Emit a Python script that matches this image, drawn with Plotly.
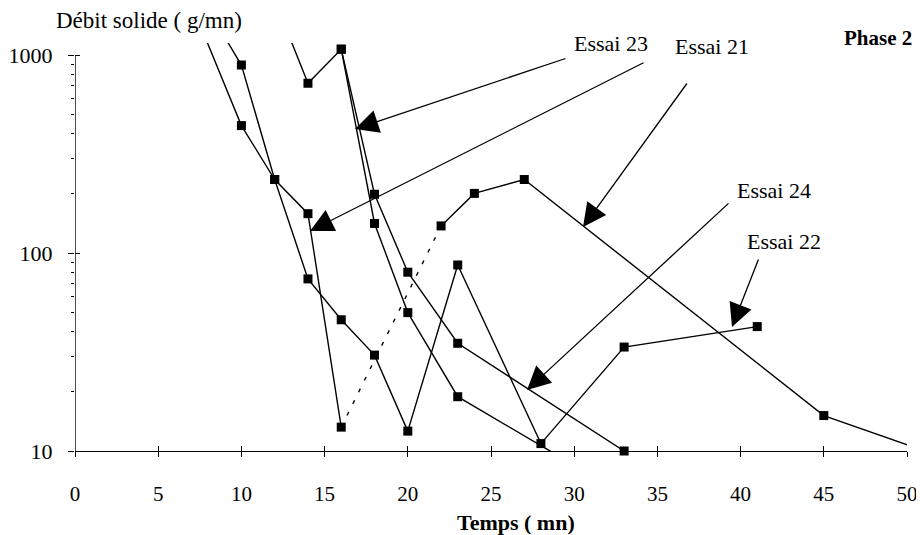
import plotly.graph_objects as go

# ---------------- data ----------------
# Essai 21 (segment 16 -> 22 min drawn dotted)
x21 = [6, 10, 12, 14, 16, 22, 24, 27, 45, 52]
y21 = [2900, 440, 235, 158, 13.2, 137, 200, 235, 15.1, 9.4]
# Essai 22
x22 = [8, 10, 12, 14, 16, 18, 20, 23, 28, 33, 41]
y22 = [1700, 890, 235, 74, 46, 30.5, 12.6, 87, 10.9, 33.5, 42.5]
# Essai 23
x23 = [12, 14, 16, 18, 20, 23, 29]
y23 = [1900, 720, 1070, 141, 50, 18.8, 9.5]
# Essai 24
x24 = [16, 18, 20, 23, 33]
y24 = [1070, 198, 80, 35, 10]

x_ticks = [0, 5, 10, 15, 20, 25, 30, 35, 40, 45, 50]
y_ticks = [10, 100, 1000]
y_minor = [20, 30, 40, 50, 60, 70, 80, 90, 200, 300, 400, 500, 600, 700, 800, 900]

dot_from, dot_to = 4, 5  # indices in Essai 21 joined by the dotted segment

# ---------------- layout geometry (screen pixels) ----------------
OFF = 8                      # page body margin offsets the figure
W, H = 924 - OFF, 535 - OFF
PL, PR, PT, PB = 75, 907, 43, 451   # plot area on screen
PW, PH = PR - PL, PB - PT
FONT = "Liberation Serif, Times New Roman, serif"


def px(xs):
    return (xs - PL) / PW


def py(ys):
    return (PB - ys) / PH


mk = dict(symbol="square", size=9, color="black")
ln = dict(color="black", width=1.4)

fig = go.Figure()

xs21 = x21[:dot_to] + [None] + x21[dot_to:]
ys21 = y21[:dot_to] + [None] + y21[dot_to:]
fig.add_trace(go.Scatter(x=xs21, y=ys21, mode="lines+markers", line=ln,
                         marker=mk, connectgaps=False, name="Essai 21"))
fig.add_trace(go.Scatter(x=x21[dot_from:dot_to + 1], y=y21[dot_from:dot_to + 1],
                         mode="lines", line=dict(color="black", width=1.4, dash="4px,9px"),
                         name="Essai 21 (pointillé)"))
fig.add_trace(go.Scatter(x=x22, y=y22, mode="lines+markers", line=ln, marker=mk,
                         name="Essai 22"))
fig.add_trace(go.Scatter(x=x23, y=y23, mode="lines+markers", line=ln, marker=mk,
                         name="Essai 23"))
fig.add_trace(go.Scatter(x=x24, y=y24, mode="lines+markers", line=ln, marker=mk,
                         cliponaxis=False, name="Essai 24"))
# dummy traces for the overlay axes that draw the crossing tick marks
for k in ("2", "3"):
    fig.add_trace(go.Scatter(x=[None], y=[None], xaxis="x" + k, yaxis="y" + k,
                             showlegend=False, hoverinfo="skip"))

ylog_range = [1, 3 + (55 - PT) / 198]
xr = [0, 50]
clear = "rgba(0,0,0,0)"

tick_common = dict(showgrid=False, zeroline=False, showline=False,
                   showticklabels=False, tickmode="array")

fig.update_layout(
    width=W, height=H,
    margin=dict(l=PL - OFF, r=(OFF + W) - PR, t=PT - OFF, b=(OFF + H) - PB,
                autoexpand=False),
    paper_bgcolor="white", plot_bgcolor="white",
    showlegend=False,
    font=dict(family=FONT, size=22, color="black"),
    xaxis=dict(range=xr, tickmode="array", tickvals=x_ticks,
               ticktext=[str(v) for v in x_ticks],
               showgrid=False, zeroline=False, showline=True,
               linecolor="black", linewidth=1.4,
               ticks="outside", ticklen=24, tickcolor=clear,
               tickfont=dict(family=FONT, size=21)),
    yaxis=dict(type="log", range=ylog_range, tickmode="array", tickvals=y_ticks,
               ticktext=[str(v) for v in y_ticks],
               showgrid=False, zeroline=False, showline=False,
               ticks="outside", ticklen=17, tickcolor=clear,
               minor=dict(tickmode="array", tickvals=y_minor, ticks="outside",
                          ticklen=3, tickcolor="black", tickwidth=1, showgrid=False),
               tickfont=dict(family=FONT, size=22)),
    xaxis2=dict(overlaying="x", anchor="y2", range=xr, tickvals=x_ticks,
                ticks="outside", ticklen=5, tickwidth=1.2, tickcolor="black",
                **tick_common),
    yaxis2=dict(overlaying="y", anchor="x2", type="log", range=ylog_range,
                tickvals=y_ticks, ticks="outside", ticklen=6, tickwidth=1.2,
                tickcolor="black", **tick_common),
    xaxis3=dict(overlaying="x", anchor="y3", range=xr, tickvals=x_ticks,
                ticks="inside", ticklen=5, tickwidth=1.2, tickcolor="black",
                **tick_common),
    yaxis3=dict(overlaying="y", anchor="x3", type="log", range=ylog_range,
                tickvals=y_ticks, ticks="inside", ticklen=5, tickwidth=1.2,
                tickcolor="black", **tick_common),
)

# y axis line only from 10 to 1000
fig.add_shape(type="line", xref="x", yref="y", x0=0, x1=0,
              y0=y_ticks[0], y1=y_ticks[-1],
              line=dict(color="black", width=1.4))

# texts (screen pixel positions)
texts = [
    ("Débit solide ( g/mn)", 54, 21, "left", False, 23),
    ("Phase 2", 914, 38, "right", True, 21),
    ("Temps ( mn)", 516, 522, "center", True, 22),
    ("Essai 23", 611, 43, "center", False, 22),
    ("Essai 21", 712, 47, "center", False, 22),
    ("Essai 24", 774, 190, "center", False, 22),
    ("Essai 22", 784, 241, "center", False, 22),
]
for t, xx, yy, anc, bold, fs in texts:
    fig.add_annotation(text=f"<b>{t}</b>" if bold else t, xref="paper", yref="paper",
                       x=px(xx), y=py(yy), xanchor=anc, yanchor="middle",
                       showarrow=False, font=dict(family=FONT, size=fs, color="black"))

# arrows: (tip, tail) in screen pixels
arrows = [
    ((355, 129), (567, 58)),   # Essai 23
    ((310, 231), (645, 62)),   # Essai 21
    ((583, 227), (688, 82)),   # Essai 21
    ((527, 390), (730, 202)),  # Essai 24
    ((732, 327), (759, 258)),  # Essai 22
]
for (tx, ty), (sx, sy) in arrows:
    fig.add_annotation(text="", xref="paper", yref="paper", x=px(tx), y=py(ty),
                       ax=sx - tx, ay=sy - ty, axref="pixel", ayref="pixel",
                       showarrow=True, arrowhead=2, arrowsize=3.6, arrowwidth=1.3,
                       arrowcolor="black", standoff=0)

fig.write_html("out.html")
